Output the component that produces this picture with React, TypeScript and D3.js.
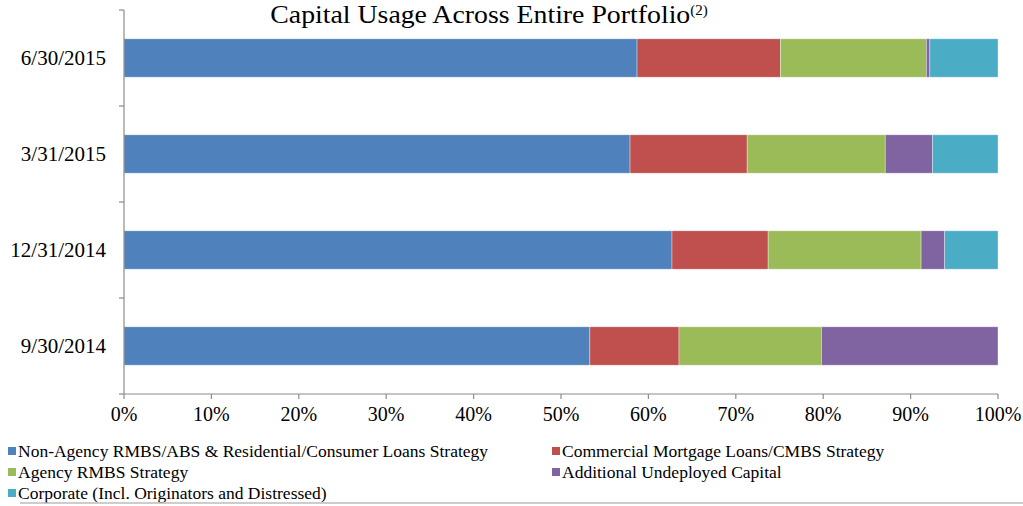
import React from "react";
import * as d3 from "d3";

const categories = ["6/30/2015", "3/31/2015", "12/31/2014", "9/30/2014"];
const seriesNames = [
  "Non-Agency RMBS/ABS & Residential/Consumer Loans Strategy",
  "Commercial Mortgage Loans/CMBS Strategy",
  "Agency RMBS Strategy",
  "Additional Undeployed Capital",
  "Corporate (Incl. Originators and Distressed)",
];
const nonAgency = [58.7, 57.9, 62.7, 53.3];
const commercial = [16.4, 13.4, 11.0, 10.2];
const agency = [16.7, 15.8, 17.5, 16.3];
const undeployed = [0.4, 5.4, 2.7, 20.2];
const corporate = [7.8, 7.5, 6.1, 0.0];
const colors = ["#4F81BD", "#C0504D", "#9BBB59", "#8064A2", "#4BACC6"];
const xTicks = [0, 10, 20, 30, 40, 50, 60, 70, 80, 90, 100];

const W = 1023;
const H = 506;
const left = 124;
const right = 998;
const top = 10;
const bottom = 394;
const FONT = "Liberation Serif";

export default function App() {
  const series = [nonAgency, commercial, agency, undeployed, corporate];
  const rows = categories.map((c, i) => {
    const r: any = { cat: c };
    series.forEach((s, k) => (r["s" + k] = s[i]));
    return r;
  });
  const stacked = d3.stack().keys(series.map((_, k) => "s" + k))(rows);
  const x = d3.scaleLinear().domain([0, 100]).range([left, right]);
  const y = d3.scaleBand().domain(categories).range([top, bottom]).paddingInner(0.6).paddingOuter(0.3);
  const yTickPos = d3.range(categories.length + 1).map((i) => top + (i * (bottom - top)) / categories.length);

  const legendItems = [
    { k: 0, x: 8, y: 457 },
    { k: 1, x: 552, y: 457 },
    { k: 2, x: 8, y: 478 },
    { k: 3, x: 552, y: 478 },
    { k: 4, x: 8, y: 499 },
  ];

  return (
    <svg width={W} height={H} style={{ position: "absolute", left: 0, top: 0, background: "#fff" }}>
      <text x={489} y={23} textAnchor="middle" fontSize={25.5} fill="#000" fontFamily={FONT}>
        <tspan textLength={420} lengthAdjust="spacingAndGlyphs">Capital Usage Across Entire Portfolio</tspan>
        <tspan fontSize={15} dy={-8} fontFamily={FONT}>(2)</tspan>
      </text>
      {stacked.map((layer, k) =>
        layer.map((d, i) =>
          d[1] - d[0] > 0 ? (
            <rect
              key={k + "-" + i}
              x={x(d[0])}
              y={y(categories[i])}
              width={x(d[1]) - x(d[0])}
              height={y.bandwidth()}
              fill={colors[k]}
              stroke="#ffffff"
              strokeOpacity={0.5}
              strokeWidth={0.7}
            />
          ) : null
        )
      )}
      <line x1={left} x2={left} y1={top} y2={bottom} stroke="#8c8c8c" strokeWidth={1.2} />
      <line x1={left} x2={right} y1={bottom} y2={bottom} stroke="#8c8c8c" strokeWidth={1.2} />
      {yTickPos.map((p, i) => (
        <line key={"yt" + i} x1={left - 5} x2={left} y1={p} y2={p} stroke="#8c8c8c" strokeWidth={1.2} />
      ))}
      {xTicks.map((t) => (
        <g key={"xt" + t}>
          <line x1={x(t)} x2={x(t)} y1={bottom} y2={bottom + 5} stroke="#8c8c8c" strokeWidth={1.2} />
          <text x={x(t)} y={421} textAnchor="middle" fontSize={20} fill="#000" fontFamily={FONT}>
            {t + "%"}
          </text>
        </g>
      ))}
      {categories.map((c) => (
        <text key={c} x={106} y={(y(c) as number) + y.bandwidth() / 2} dy="0.35em" textAnchor="end" fontSize={21} fill="#000" fontFamily={FONT}>
          {c}
        </text>
      ))}
      {legendItems.map((it) => (
        <g key={"lg" + it.k}>
          <rect x={it.x} y={it.y - 10} width={8} height={8} fill={colors[it.k]} />
          <text x={it.x + 10} y={it.y} fontSize={17.5} fill="#000" fontFamily={FONT}>
            {seriesNames[it.k]}
          </text>
        </g>
      ))}
      <line x1={20} x2={1023} y1={503} y2={503} stroke="#bdbdbd" strokeWidth={1.5} />
    </svg>
  );
}
